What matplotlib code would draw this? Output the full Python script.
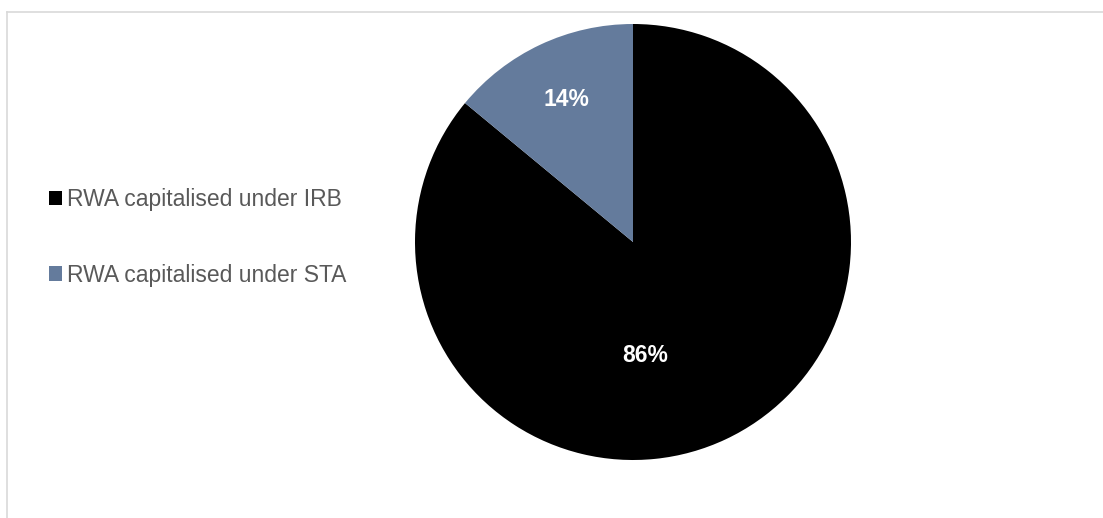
import matplotlib.pyplot as plt
from matplotlib.lines import Line2D

plt.rcParams['font.family'] = ['Liberation Sans', 'DejaVu Sans']

labels = ['RWA capitalised under IRB', 'RWA capitalised under STA']
shares = [86, 14]
colors = ['#000000', '#647B9C']

W, H = 1103, 518
fig = plt.figure(figsize=(W / 100, H / 100), dpi=100)

# pie sits in a square box, 436 px across
cx, cy, r = 633, 242, 218
ax = fig.add_axes([(cx - r) / W, (H - cy - r) / H, 2 * r / W, 2 * r / H])

wedges, texts, autotexts = ax.pie(shares, colors=colors, startangle=90, counterclock=False,
                                  autopct='%d%%', pctdistance=0.72, radius=1,
                                  textprops=dict(color='white', fontsize=16.5, fontweight='bold'))
autotexts[0].set_position((0.055, -0.52))
ax.set_xlim(-1, 1)
ax.set_ylim(-1, 1)
ax.set_aspect('equal')

fs = 16.5
fig.legend(wedges, labels, loc='center left', bbox_to_anchor=(49 / W, (H - 237.5) / H),
           frameon=False, fontsize=fs, labelcolor='#595959', handlelength=0.57,
           handleheight=0.57, handletextpad=0.2, labelspacing=2.28, borderpad=0,
           borderaxespad=0)

# chart area border (top and left edges visible)
fig.add_artist(Line2D([6.5 / W, 1], [1 - 11.5 / H, 1 - 11.5 / H], color='#d9d9d9', lw=1.2))
fig.add_artist(Line2D([6.5 / W, 6.5 / W], [0, 1 - 11.5 / H], color='#d9d9d9', lw=1.2))

fig.savefig('out.png', dpi=100)
